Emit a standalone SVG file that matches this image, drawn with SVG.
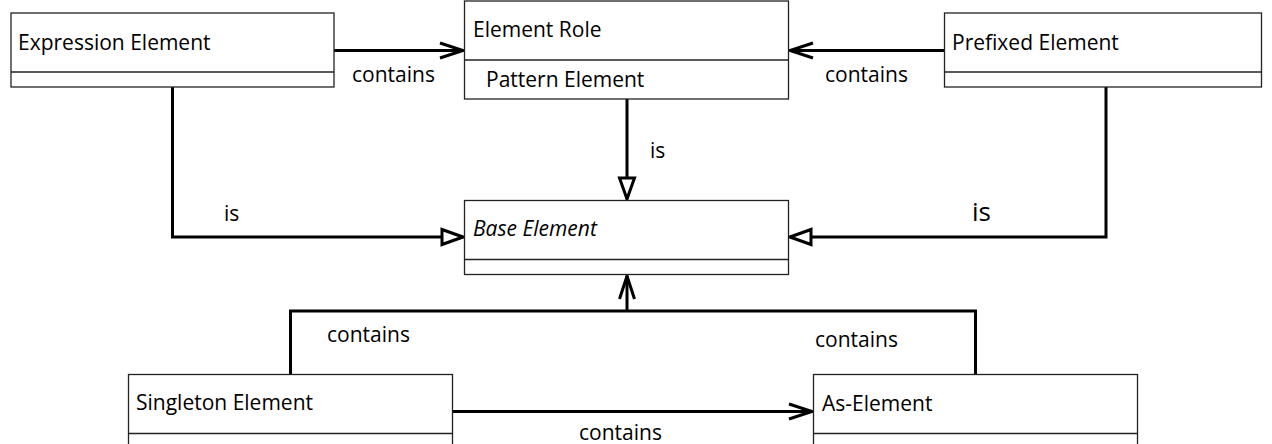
<svg xmlns="http://www.w3.org/2000/svg" width="1272" height="444" viewBox="0 0 1272 444">
<style>
.box{fill:#fff;stroke:#222;stroke-width:1.3}
.t{font-family:"Open Sans","Noto Sans",sans-serif;font-size:21px;fill:#000}
.i{font-style:italic}
.c{fill:none;stroke:#000;stroke-width:3}
</style>
<defs>
<marker id="open" markerUnits="userSpaceOnUse" markerWidth="30" markerHeight="24" viewBox="-26 -12 30 24" refX="0" refY="0" orient="auto">
<path d="M-23,-7.5 L0,0 L-23,7.5" fill="none" stroke="#000" stroke-width="3"/>
</marker>
<marker id="tri" markerUnits="userSpaceOnUse" markerWidth="30" markerHeight="24" viewBox="-26 -12 30 24" refX="0" refY="0" orient="auto">
<path d="M-21,-7.5 L0,0 L-21,7.5 Z" fill="#fff" stroke="#000" stroke-width="3" stroke-linejoin="miter"/>
</marker>
</defs>
<rect width="1272" height="444" fill="#fff"/>
<g id="connectors">
<path class="c" d="M334,50.5 H463" marker-end="url(#open)"/>
<text class="t" x="352" y="82">contains</text>
<path class="c" d="M944,50.5 H790" marker-end="url(#open)"/>
<text class="t" x="825" y="82">contains</text>
<path class="c" d="M627,99 V199" marker-end="url(#tri)"/>
<text class="t" x="650" y="158">is</text>
<path class="c" d="M172.5,87 V237 H463" marker-end="url(#tri)"/>
<text class="t" x="224" y="221">is</text>
<path class="c" d="M1106,87 V237 H790" marker-end="url(#tri)"/>
<text class="t" x="972" y="221" style="font-size:26px">is</text>
<path class="c" d="M290.5,374 V311 H975.5 V374"/>
<path class="c" d="M627,311 V276" marker-end="url(#open)"/>
<text class="t" x="327" y="342">contains</text>
<text class="t" x="815" y="347">contains</text>
<path class="c" d="M452,411.5 H812" marker-end="url(#open)"/>
<text class="t" x="579" y="440">contains</text>
</g>
<g id="expression-element">
<rect class="box" x="11" y="13" width="323" height="74"/>
<line class="box" x1="11" y1="72" x2="334" y2="72"/>
<text class="t" x="18" y="50">Expression Element</text>
</g>
<g id="element-role">
<rect class="box" x="464.5" y="1" width="324" height="98"/>
<line class="box" x1="464.5" y1="60" x2="788.5" y2="60"/>
<text class="t" x="473" y="37">Element Role</text>
<text class="t" x="486" y="87">Pattern Element</text>
</g>
<g id="prefixed-element">
<rect class="box" x="944.5" y="13" width="317" height="74"/>
<line class="box" x1="944.5" y1="72" x2="1261.5" y2="72"/>
<text class="t" x="952" y="50">Prefixed Element</text>
</g>
<g id="base-element">
<rect class="box" x="464.5" y="200.5" width="324" height="74"/>
<line class="box" x1="464.5" y1="259.5" x2="788.5" y2="259.5"/>
<text class="t i" x="473" y="236">Base Element</text>
</g>
<g id="singleton-element">
<rect class="box" x="128.5" y="374.5" width="324" height="80"/>
<line class="box" x1="128.5" y1="433.5" x2="452.5" y2="433.5"/>
<text class="t" x="136" y="410">Singleton Element</text>
</g>
<g id="as-element">
<rect class="box" x="813.5" y="374.5" width="324" height="80"/>
<line class="box" x1="813.5" y1="433.5" x2="1137.5" y2="433.5"/>
<text class="t" x="822" y="411">As-Element</text>
</g>
</svg>
